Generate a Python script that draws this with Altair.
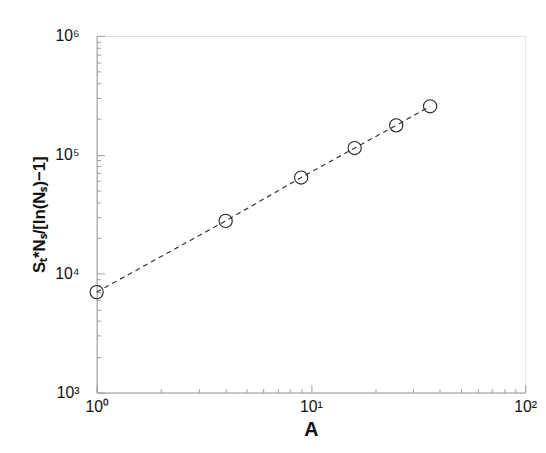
import altair as alt
import pandas as pd

# Data
A_values = [1, 4, 9, 16, 25, 36]
S_values = [7000, 27800, 64400, 114000, 177000, 256000]

x_ticks = [1, 2, 3, 4, 5, 6, 7, 8, 9, 10, 20, 30, 40, 50, 60, 70, 80, 90, 100]
x_labels = [1, 10, 100]
y_ticks = [1000, 2000, 3000, 4000, 5000, 6000, 7000, 8000, 9000,
           10000, 20000, 30000, 40000, 50000, 60000, 70000, 80000, 90000,
           100000, 200000, 300000, 400000, 500000, 600000, 700000, 800000, 900000,
           1000000]
y_labels = [1000, 10000, 100000, 1000000]

df = pd.DataFrame({"A": A_values, "S": S_values})

W, H = 435, 362
FONT = "Liberation Sans"
AXIS_GRAY = "#9a9a9a"

sup = "{'0':'⁰','1':'¹','2':'²','3':'³','4':'⁴','5':'⁵','6':'⁶'}"
label_expr = "'10' + " + sup + "[toString(round(log(datum.value)/LN10))]"
major_test = "abs(log(datum.value)/LN10 - round(log(datum.value)/LN10)) < 0.000001"

x_scale = alt.Scale(type="log", domain=[1, 100], nice=False)
y_scale = alt.Scale(type="log", domain=[1000, 1000000], nice=False)

# Axes with labels (no ticks)
x_label_axis = alt.Axis(values=x_labels, labelExpr=label_expr, ticks=False, grid=False,
                        labelFlush=False, labelOverlap=False,
                        domainColor=AXIS_GRAY, labelFont=FONT, labelFontSize=16,
                        labelColor="#111", labelPadding=6, title="A", titleFont=FONT,
                        titleFontSize=20, titleFontWeight="bold", titleColor="#111",
                        titlePadding=6)
y_label_axis = alt.Axis(values=y_labels, labelExpr=label_expr, ticks=False, grid=False,
                        labelFlush=False, labelOverlap=False,
                        domainColor=AXIS_GRAY, labelFont=FONT, labelFontSize=16,
                        labelColor="#111", labelPadding=18,
                        title="Sₜ*Nₛ/[ln(Nₛ)−1]", titleFont=FONT,
                        titleFontSize=17, titleFontWeight="bold", titleColor="#111",
                        titlePadding=6)

tick_size = {"condition": {"test": major_test, "value": 8}, "value": 4}

# Inward ticks: opposite-oriented axes shifted onto the plot edges
x_tick_axis = alt.Axis(orient="top", offset=-H, values=x_ticks, labels=False, domain=False,
                       grid=False, title=None, tickColor=AXIS_GRAY, tickSize=tick_size)
y_tick_axis = alt.Axis(orient="right", offset=-W, values=y_ticks, labels=False, domain=False,
                       grid=False, title=None, tickColor=AXIS_GRAY, tickSize=tick_size)

line = alt.Chart(df).mark_line(color="#333333", strokeWidth=1.2, strokeDash=[5, 4]).encode(
    x=alt.X("A:Q", scale=x_scale, axis=x_label_axis),
    y=alt.Y("S:Q", scale=y_scale, axis=y_label_axis),
)

points = alt.Chart(df).mark_point(shape="circle", size=180, filled=False, color="#222222",
                                  strokeWidth=1.1, opacity=1).encode(
    x=alt.X("A:Q", scale=x_scale, axis=x_tick_axis),
    y=alt.Y("S:Q", scale=y_scale, axis=y_tick_axis),
)

chart = alt.layer(line, points).resolve_axis(x="independent", y="independent").properties(
    width=W, height=H,
    autosize=alt.AutoSizeParams(type="none"),
    padding={"left": 90, "top": 25, "right": 13, "bottom": 58},
).configure_view(stroke="#b0b0b0", strokeWidth=1).configure(background="white")

chart.save("out.html", embed_options={"renderer": "svg", "actions": False})
